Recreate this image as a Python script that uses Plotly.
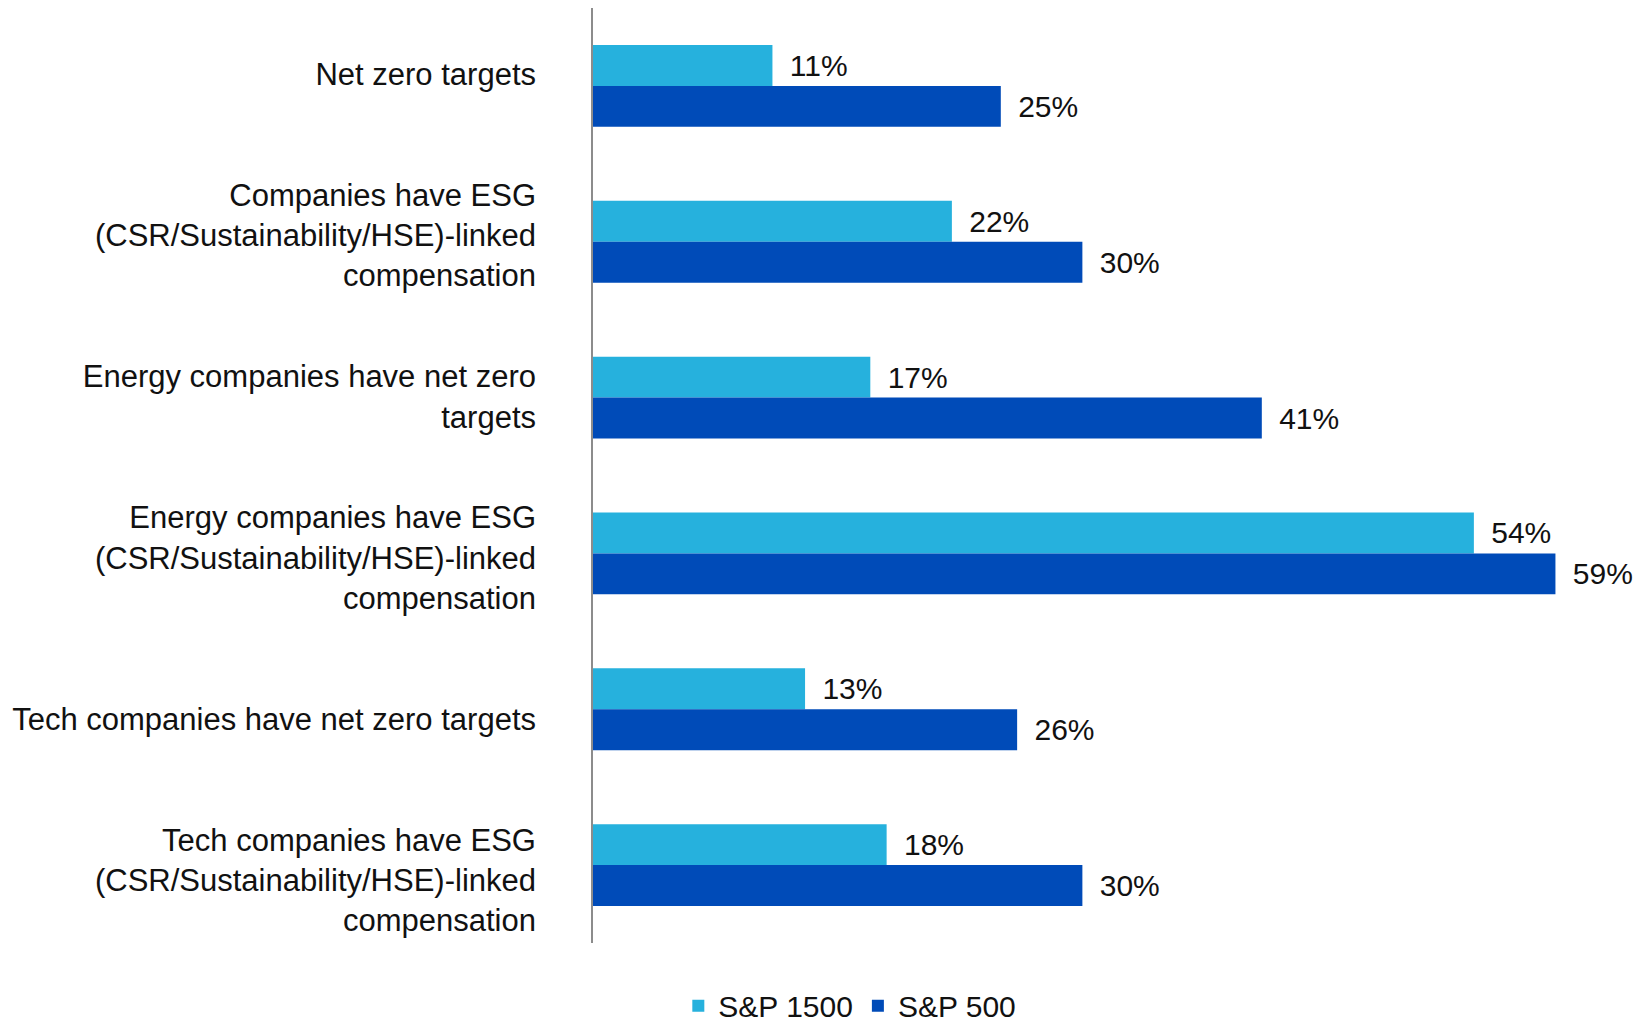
import plotly.graph_objects as go

categories = [
    "Net zero targets",
    "Companies have ESG<br>(CSR/Sustainability/HSE)-linked<br>compensation",
    "Energy companies have net zero<br>targets",
    "Energy companies have ESG<br>(CSR/Sustainability/HSE)-linked<br>compensation",
    "Tech companies have net zero targets",
    "Tech companies have ESG<br>(CSR/Sustainability/HSE)-linked<br>compensation",
]
sp1500 = [11, 22, 17, 54, 13, 18]
sp500 = [25, 30, 41, 59, 26, 30]

LIGHT = "#26B1DD"
DARK = "#004BB8"
FONT = "Liberation Sans, Arial, sans-serif"
TXT = "#111111"
FS = 30
GAP = "\u00a0\u2009"

fig = go.Figure()
for name, vals, col in [("S&P 1500", sp1500, LIGHT), ("S&P 500", sp500, DARK)]:
    fig.add_trace(go.Bar(
        name=name, y=categories, x=vals, orientation="h",
        marker=dict(color=col, line=dict(width=0)),
        text=[f"{GAP}{v}%" for v in vals],
        textposition="outside", cliponaxis=False,
        textfont=dict(size=FS, color=TXT, family=FONT),
    ))

# category labels sit on their own axis, spread a little wider than the bar groups
pos = list(range(len(categories)))
fig.add_trace(go.Scatter(
    x=[0] * len(pos), y=pos, yaxis="y2", mode="markers",
    marker=dict(opacity=0), showlegend=False, hoverinfo="skip",
))

fig.update_layout(
    width=1646, height=1022,
    margin=dict(l=593, r=9, t=8, b=79),
    paper_bgcolor="white", plot_bgcolor="white",
    barmode="group", bargap=0.475, bargroupgap=0,
    font=dict(family=FONT, size=FS, color=TXT),
    showlegend=True,
    legend=dict(orientation="h", x=0.246, xanchor="center",
                yref="container", y=0.016, yanchor="middle",
                font=dict(size=FS), traceorder="normal"),
    yaxis=dict(autorange="reversed", showline=True, linecolor="#8c8c8c",
               linewidth=2, ticks="", showticklabels=False, showgrid=False),
    yaxis2=dict(overlaying="y", side="left", range=[5.39, -0.41],
                tickvals=pos, ticktext=categories, ticks="",
                ticklabelstandoff=56, showgrid=False, zeroline=False,
                showline=False, tickfont=dict(size=31, color=TXT)),
)
fig.update_xaxes(range=[0, 64], visible=False)

fig.write_html("out.html")
